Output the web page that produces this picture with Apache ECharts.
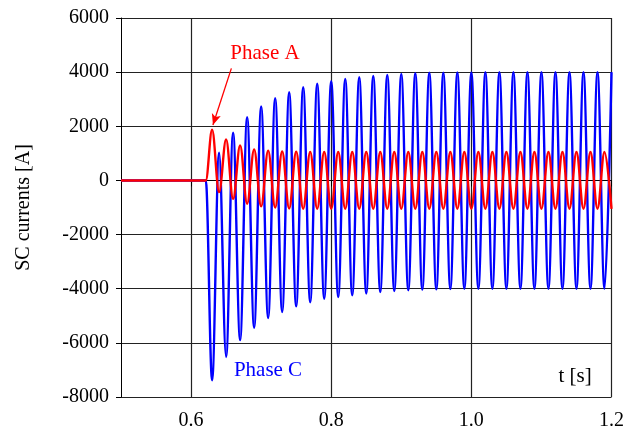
<!DOCTYPE html>
<html>
<head>
<meta charset="utf-8">
<script src="https://cdn.jsdelivr.net/npm/echarts@6/dist/echarts.min.js"></script>
<style>
  html, body { margin: 0; padding: 0; background: #fff; }
  #main { width: 627px; height: 434px; }
</style>
</head>
<body>
<div id="main"></div>
<script>
// sample times (s): pre-fault, fault onset, then every peak / trough
var times = [
  0.5, 0.621,
  0.63, 0.64, 0.65, 0.66, 0.67, 0.68, 0.69, 0.70, 0.71, 0.72,
  0.73, 0.74, 0.75, 0.76, 0.77, 0.78, 0.79, 0.80, 0.81, 0.82,
  0.83, 0.84, 0.85, 0.86, 0.87, 0.88, 0.89, 0.90, 0.91, 0.92,
  0.93, 0.94, 0.95, 0.96, 0.97, 0.98, 0.99, 1.00, 1.01, 1.02,
  1.03, 1.04, 1.05, 1.06, 1.07, 1.08, 1.09, 1.10, 1.11, 1.12,
  1.13, 1.14, 1.15, 1.16, 1.17, 1.18, 1.19, 1.20
]
// Phase A current (A) read at those times
var phaseA = [
  0, 0,
  1870, -430, 1510, -680, 1290, -860, 1145, -960, 1100, -1005,
  1070, -1040, 1060, -1045, 1055, -1050, 1050, -1050, 1050, -1050,
  1050, -1050, 1050, -1050, 1050, -1050, 1050, -1050, 1050, -1050,
  1050, -1050, 1050, -1050, 1050, -1050, 1050, -1050, 1050, -1050,
  1050, -1050, 1050, -1050, 1050, -1050, 1050, -1050, 1050, -1050,
  1050, -1050, 1050, -1050, 1050, -1050, 1050, -1050
]
// Phase C current (A) read at those times
var phaseC = [
  0, 0,
  -7380, 1020, -6520, 1760, -5900, 2340, -5440, 2730, -5080, 3040,
  -4860, 3260, -4650, 3440, -4500, 3570, -4370, 3665, -4305, 3750,
  -4245, 3810, -4180, 3860, -4120, 3900, -4085, 3935, -4060, 3960,
  -4035, 3975, -4025, 3980, -4010, 3985, -4000, 3990, -4000, 3995,
  -4000, 4000, -4000, 4000, -4000, 4000, -4000, 4000, -4000, 4000,
  -4000, 4000, -4000, 4000, -4000, 4000, -4000, 4000
]
var xTicks = [0.6, 0.8, 1.0, 1.2]
// annotation arrow: from label to first Phase A peak
var arrowFrom = [0.6575, 4140]
var arrowTo = [0.6312, 2050]

function pairs (vals) {
  return times.map(function (t, i) { return [t, vals[i]] })
}

var serif = 'Liberation Serif'
var myChart = echarts.init(document.getElementById('main'))
var option = {
  animation: false,
  grid: { left: 121, right: 15, top: 18, bottom: 37 },
  xAxis: {
    type: 'value',
    min: 0.5,
    max: 1.2,
    axisLine: { lineStyle: { color: '#000', width: 1 } },
    axisTick: { show: true, customValues: xTicks, length: 6, lineStyle: { color: '#000' } },
    axisLabel: {
      customValues: xTicks,
      margin: 14,
      color: '#000',
      fontFamily: serif,
      fontSize: 20,
      formatter: function (v) { return v.toFixed(1) }
    },
    splitLine: { show: true, lineStyle: { color: '#222', width: 1.2 } }
  },
  yAxis: {
    type: 'value',
    min: -8000,
    max: 6000,
    interval: 2000,
    name: 'SC currents [A]',
    nameLocation: 'middle',
    nameGap: 87,
    nameTextStyle: { color: '#000', fontFamily: serif, fontSize: 20 },
    axisLine: { show: true, lineStyle: { color: '#000', width: 1 } },
    axisTick: { show: true, length: 5, lineStyle: { color: '#000' } },
    axisLabel: {
      margin: 12,
      color: '#000',
      fontFamily: serif,
      fontSize: 20,
      formatter: function (v) { return String(v) }
    },
    splitLine: { show: true, lineStyle: { color: '#222', width: 1.2 } }
  },
  series: [
    {
      name: 'Phase C',
      type: 'line',
      data: pairs(phaseC),
      showSymbol: false,
      smooth: 0.36,
      smoothMonotone: 'x',
      lineStyle: { color: '#0000ff', width: 2.4 },
      z: 3
    },
    {
      name: 'Phase A',
      type: 'line',
      data: pairs(phaseA),
      showSymbol: false,
      smooth: 0.36,
      smoothMonotone: 'x',
      lineStyle: { color: '#ff0000', width: 2.4 },
      z: 4,
      markLine: {
        silent: true,
        symbol: ['none', 'arrow'],
        symbolSize: [7, 11],
        label: { show: false },
        lineStyle: { color: '#ff0000', width: 1.3, type: 'solid' },
        data: [[{ coord: arrowFrom }, { coord: arrowTo }]]
      }
    }
  ],
  graphic: [
    { type: 'text', x: 265, y: 53, style: { text: 'Phase A', fill: '#ff0000', font: '21px "Liberation Serif"', textAlign: 'center', textVerticalAlign: 'middle' } },
    { type: 'text', x: 268, y: 370, style: { text: 'Phase C', fill: '#0000ff', font: '21px "Liberation Serif"', textAlign: 'center', textVerticalAlign: 'middle' } },
    { type: 'text', x: 575, y: 376, style: { text: 't [s]', fill: '#000', font: '21px "Liberation Serif"', textAlign: 'center', textVerticalAlign: 'middle' } }
  ]
}
myChart.setOption(option)
</script>
</body>
</html>
